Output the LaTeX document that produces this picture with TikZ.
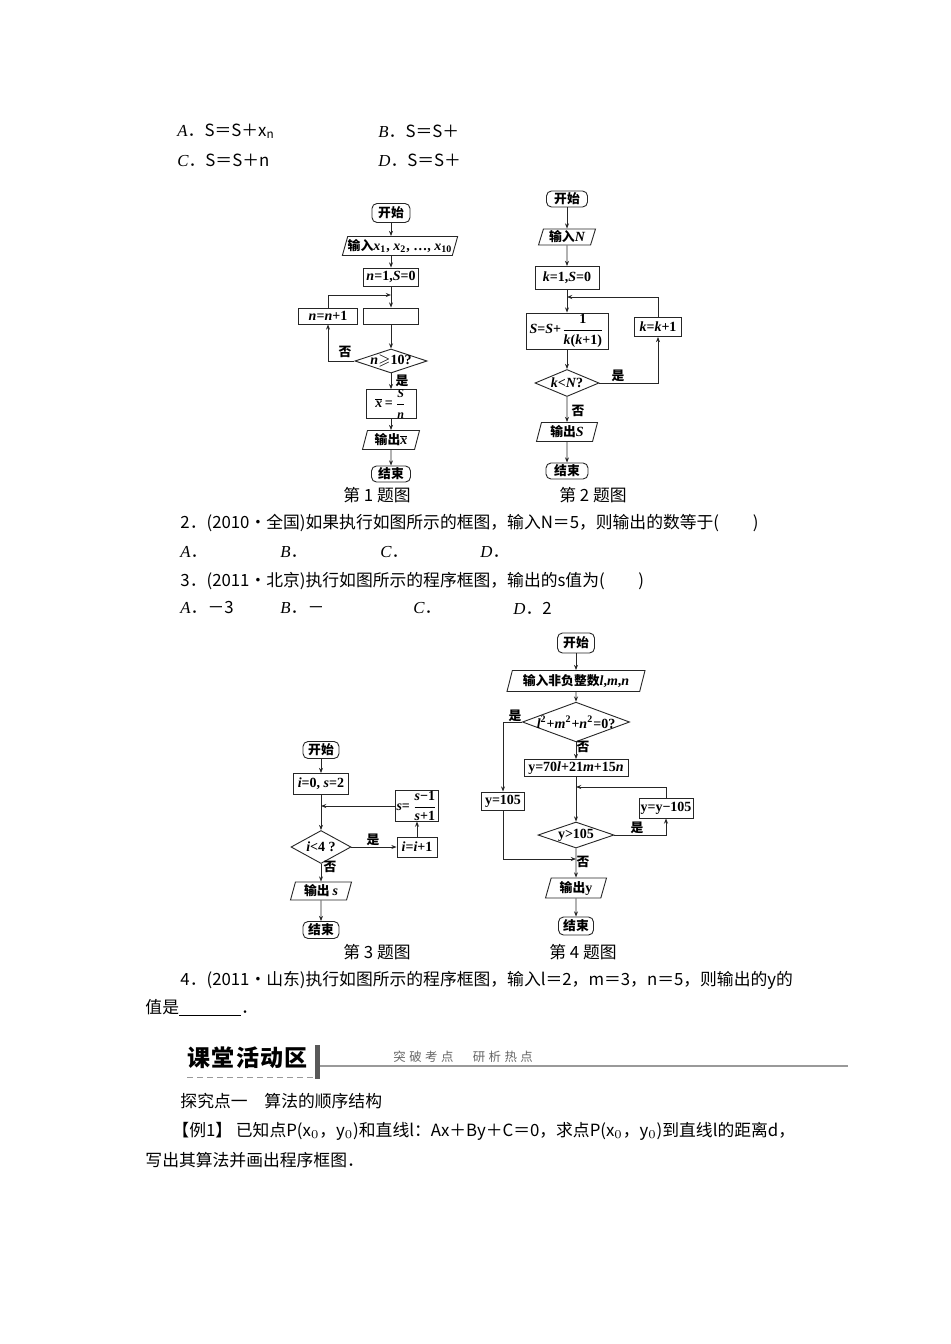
\documentclass[tikz,border=0pt]{standalone}
\usepackage{amsmath, amssymb}
\usepackage{fontspec}
\setmainfont{Noto Sans CJK SC}
\newfontfamily\serifit{Liberation Serif}
\newfontfamily\bannerfont[LetterSpace=6]{Noto Sans CJK SC}
\newfontfamily\tagfont[LetterSpace=28]{Noto Sans CJK SC}
\usepackage{tikz}
\usetikzlibrary{arrows.meta, shapes.geometric}

\definecolor{ink}{gray}{0.15}
\definecolor{rulegray}{gray}{0.6}
\newcommand{\bodyfont}{\fontsize{8.4pt}{10pt}\selectfont}
\newcommand{\chartfont}{\fontsize{6.4pt}{7.5pt}\selectfont\bfseries}
\newcommand{\opt}[1]{{\serifit\itshape #1}．}
\newcommand{\fm}[1]{{\serifit\fontsize{7pt}{8pt}\selectfont #1}}
\newcommand{\mv}[1]{{\itshape #1}}
\newcommand{\sm}[1]{\text{\fontsize{6pt}{6pt}\selectfont #1}}

\begin{document}
\begin{tikzpicture}[x=0.5pt, y=-0.5pt, line width=0.45pt, >={Stealth[length=2.6pt,width=2pt]},
    txt/.style={anchor=west, inner sep=0pt, font=\bodyfont},
    figcap/.style={inner sep=0pt, font=\bodyfont},
    sz/.style 2 args={minimum width=#1*0.5pt, minimum height=#2*0.5pt},
    term/.style={draw=ink, rounded corners=2.5pt, inner sep=0pt, font=\chartfont},
    proc/.style={draw=ink, inner sep=0pt, font=\chartfont},
    io/.style={draw=ink, trapezium, trapezium left angle=68, trapezium right angle=112,
      trapezium stretches body, inner sep=0pt, font=\chartfont},
    cond/.style={draw=ink, diamond, aspect=3, inner xsep=-1.5pt, inner ysep=0pt, font=\chartfont},
    lbl/.style={inner sep=0pt, font=\chartfont},
    flow/.style={draw=ink, ->}]
\fill[white] (0,0) rectangle (950,1344);
\useasboundingbox (0,0) rectangle (950,1344);

\node[txt] (q1a) at (177,131) {\opt{A}S＝S＋x$_{\mathrm{n}}$};
\node[txt] (q1b) at (378,131) {\opt{B}S＝S＋};
\node[txt] (q1c) at (177,160) {\opt{C}S＝S＋n};
\node[txt] (q1d) at (378,160) {\opt{D}S＝S＋};

% chart 1
\node[term, sz={38}{19}] (s1) at (391,213) {开始};
\node[io, sz={100}{19}] (in1) at (400,246) {输入\fm{\mv{x}\textsubscript{1}, \mv{x}\textsubscript{2}, …, \mv{x}\textsubscript{10}}};
\node[proc, sz={55}{18}] (init1) at (391,277) {\fm{\mv{n}=1,\mv{S}=0}};
\coordinate (j1) at (391,295);
\node[proc, sz={55}{16}] (emp1) at (391,316) {};
\node[proc, sz={59}{16}] (inc1) at (328,316) {\fm{\mv{n}=\mv{n}+1}};
\node[cond, sz={65}{21}] (dec1) at (391,361) {\fm{\mv{n}$\geqslant$10?}};
\node[proc, sz={50}{26}] (mean1) at (391,404) {\fm{$\overline{\text{\mv{x}}}$\,=\,$\dfrac{\sm{\mv{S}}}{\sm{\mv{n}}}$}};
\node[io, sz={57}{19}] (out1) at (391,440) {输出\fm{$\overline{\text{\mv{x}}}$}};
\node[term, sz={39}{16}] (end1) at (391,474) {结束};
\node[lbl] (yes1) at (402,381) {是};
\node[lbl] (no1) at (345,352) {否};
\node[figcap] (cap1) at (377,495) {第 1 题图};
\draw[flow] (s1) -- (s1 |- in1.north);
\draw[flow] (in1.south -| init1.north) -- (init1);
\draw[flow] (init1) -- (emp1);
\draw[flow] (emp1) -- (dec1);
\draw[flow] (dec1.west) -| (inc1.south);
\draw[flow] (inc1.north) |- (j1);
\draw[flow] (dec1) -- (mean1);
\draw[flow] (mean1) -- (out1);
\draw[flow] (out1) -- (end1);

% chart 2
\node[term, sz={41}{16}] (s2) at (567,199) {开始};
\node[io, sz={57}{16}] (in2) at (567,237) {输入\fm{\mv{N}}};
\node[proc, sz={64}{23}] (init2) at (567,278) {\fm{\mv{k}=1,\mv{S}=0}};
\coordinate (j2) at (567,297);
\node[proc, sz={82}{36}] (sum2) at (567,331) {\fm{\mv{S}=\mv{S}+$\dfrac{\text{1}}{\text{\mv{k}(\mv{k}+1)}}$}};
\node[proc, sz={47}{19}] (inc2) at (658,327) {\fm{\mv{k}=\mv{k}+1}};
\node[cond, sz={64}{27}] (dec2) at (567,383) {\fm{\mv{k}<\mv{N}?}};
\node[io, sz={61}{19}] (out2) at (567,432) {输出\fm{\mv{S}}};
\node[term, sz={42}{16}] (end2) at (567,471) {结束};
\node[lbl] (yes2) at (618,376) {是};
\node[lbl] (no2) at (578,411) {否};
\node[figcap] (cap2) at (593,495) {第 2 题图};
\draw[flow] (s2) -- (in2);
\draw[flow] (in2) -- (init2);
\draw[flow] (init2) -- (sum2);
\draw[flow] (inc2.north) |- (j2);
\draw[flow] (sum2) -- (dec2);
\draw[flow] (dec2.east) -| (inc2.south);
\draw[flow] (dec2) -- (out2);
\draw[flow] (out2) -- (end2);

\node[txt] (p2) at (180,523) {2．(2010・全国)如果执行如图所示的框图，输入N＝5，则输出的数等于(　　)};
\node[txt] (a2a) at (180,552) {\opt{A}};
\node[txt] (a2b) at (280,552) {\opt{B}};
\node[txt] (a2c) at (380,552) {\opt{C}};
\node[txt] (a2d) at (480,552) {\opt{D}};
\node[txt] (p3) at (180,581) {3．(2011・北京)执行如图所示的程序框图，输出的s值为(　　)};
\node[txt] (a3a) at (180,608) {\opt{A}－3};
\node[txt] (a3b) at (280,608) {\opt{B}－};
\node[txt] (a3c) at (413,608) {\opt{C}};
\node[txt] (a3d) at (513,608) {\opt{D}2};

% chart 3
\node[term, sz={36}{17}] (s3) at (321,750) {开始};
\node[proc, sz={55}{21}] (init3) at (321,784) {\fm{\mv{i}=0, \mv{s}=2}};
\node[proc, sz={43}{30}] (frac3) at (417,806) {\fm{\mv{s}=\,$\dfrac{\text{\mv{s}−1}}{\text{\mv{s}+1}}$}};
\node[cond, sz={60}{33}] (dec3) at (321,847) {\fm{\mv{i}<4 ?}};
\node[proc, sz={40}{20}] (inc3) at (417,847) {\fm{\mv{i}=\mv{i}+1}};
\node[io, sz={61}{18}] (out3) at (321,891) {输出 \fm{\mv{s}}};
\node[term, sz={36}{17}] (end3) at (321,930) {结束};
\node[lbl] (yes3) at (373,840) {是};
\node[lbl] (no3) at (330,867) {否};
\node[figcap] (cap3) at (377,952) {第 3 题图};
\draw[flow] (s3) -- (init3);
\draw[flow] (init3) -- (dec3);
\draw[flow] (frac3.west) -- (frac3.west -| init3.south);
\draw[flow] (dec3.east) -- (inc3.west);
\draw[flow] (inc3) -- (frac3);
\draw[flow] (dec3) -- (out3);
\draw[flow] (out3) -- (end3);

% chart 4
\node[term, sz={37}{20}] (s4) at (576,643) {开始};
\node[io, sz={138}{21}] (in4) at (576,681) {输入非负整数\fm{\mv{l},\mv{m},\mv{n}}};
\node[cond, sz={101}{38}, aspect=2.7] (dec4a) at (576,722) {\fm{\mv{l}\textsuperscript{2}+\mv{m}\textsuperscript{2}+\mv{n}\textsuperscript{2}=0?}};
\node[proc, sz={104}{17}] (calc4) at (576,768) {\fm{y=70\mv{l}+21\mv{m}+15\mv{n}}};
\coordinate (j4a) at (576,787);
\node[proc, sz={43}{18}] (set4) at (503,801) {\fm{y=105}};
\node[proc, sz={54}{20}] (sub4) at (666,808) {\fm{y=y−105}};
\node[cond, sz={76}{26}] (dec4b) at (576,835) {\fm{y>105}};
\coordinate (j4b) at (576,859);
\node[io, sz={61}{20}] (out4) at (576,888) {输出\fm{y}};
\node[term, sz={35}{18}] (end4) at (576,926) {结束};
\node[lbl] (yes4a) at (515,716) {是};
\node[lbl] (no4a) at (583,747) {否};
\node[lbl] (yes4b) at (637,828) {是};
\node[lbl] (no4b) at (583,862) {否};
\node[figcap] (cap4) at (583,952) {第 4 题图};
\draw[flow] (s4) -- (in4);
\draw[flow] (in4) -- (dec4a);
\draw[flow] (dec4a.west) -| (set4.north);
\draw[flow] (dec4a) -- (calc4);
\draw[flow] (calc4) -- (dec4b);
\draw[flow] (sub4.north) |- (j4a);
\draw[flow] (dec4b.east) -| (sub4.south);
\draw[flow] (set4.south) |- (j4b);
\draw[flow] (dec4b) -- (out4);
\draw[flow] (out4) -- (end4);

\node[txt] (p4) at (180,980) {4．(2011・山东)执行如图所示的程序框图，输入l＝2，m＝3，n＝5，则输出的y的};
\node[txt] (p4b) at (145,1008) {值是\underline{\hspace{31pt}}．};

% banner
\node[anchor=west, inner sep=0pt, font=\bannerfont\fontsize{11.5pt}{12pt}\selectfont\bfseries] (band) at (187,1058) {课堂活动区};
\fill[black!65] (315,1045) rectangle (320,1079);
\draw[rulegray, line width=1pt] (320,1066) -- (848,1066);
\draw[rulegray, dash pattern=on 3pt off 2pt] (187,1077) -- (313,1077);
\node[anchor=west, inner sep=0pt, text=black!60, font=\tagfont\fontsize{6.2pt}{7pt}\selectfont] (bandsub) at (393,1057) {突破考点　研析热点};

\node[txt] (t1) at (180,1101) {探究点一　算法的顺序结构};
\node[txt] (t2) at (172,1131) {【例1】 已知点P(x$_0$，y$_0$)和直线l：Ax＋By＋C＝0，求点P(x$_0$，y$_0$)到直线l的距离d，};
\node[txt] (t3) at (145,1160) {写出其算法并画出程序框图．};
\end{tikzpicture}
\end{document}
